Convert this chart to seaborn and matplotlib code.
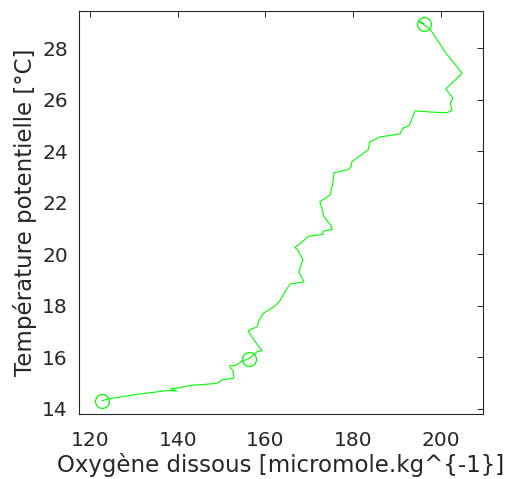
import matplotlib
matplotlib.use("Agg")
import matplotlib.pyplot as plt
import seaborn as sns
import pandas as pd

# Profile: dissolved oxygen vs potential temperature (surface -> depth)
oxygen = [196.1, 195.0, 197.5, 201.0, 204.8, 201.1, 202.7, 202.1, 202.5, 201.4,
          197.5, 194.1, 192.7, 191.3, 190.7, 186.1, 183.8, 183.4, 181.5, 179.7,
          179.5, 178.8, 175.6, 175.4, 174.7, 172.4, 172.9, 173.3, 174.9, 175.2,
          173.1, 173.1, 169.7, 168.5, 166.7, 167.2, 168.5, 167.6, 168.8, 165.6,
          164.4, 163.3, 162.2, 159.4, 158.5, 158.1, 156.0, 156.9, 158.3, 159.2,
          158.1, 156.2, 154.6, 153.0, 151.9, 152.1, 152.6, 152.8, 152.6, 150.3,
          148.9, 145.8, 142.8, 140.5, 138.4, 139.8, 137.8, 137.0, 130.0, 123.9,
          122.7]
theta = [28.96, 29.05, 28.75, 27.85, 27.03, 26.42, 26.07, 25.88, 25.60, 25.50,
         25.53, 25.57, 24.99, 24.90, 24.68, 24.56, 24.37, 24.06, 23.83, 23.60,
         23.40, 23.29, 23.17, 22.80, 22.30, 22.05, 21.75, 21.47, 21.13, 20.97,
         20.90, 20.78, 20.70, 20.50, 20.27, 20.20, 19.80, 19.30, 18.93, 18.85,
         18.54, 18.20, 18.00, 17.70, 17.42, 17.19, 17.03, 16.80, 16.46, 16.26,
         16.22, 15.95, 15.84, 15.68, 15.68, 15.57, 15.49, 15.26, 15.18, 15.14,
         14.99, 14.95, 14.91, 14.83, 14.78, 14.69, 14.72, 14.70, 14.55, 14.38,
         14.31]

# Marked points (circles)
mark_oxygen = [196.1, 156.2, 122.7]
mark_theta = [28.96, 15.95, 14.31]

x_ticks = [120, 140, 160, 180, 200]
y_ticks = [14, 16, 18, 20, 22, 24, 26, 28]

sns.set_theme(style="white")
plt.rcParams['font.family'] = ['DejaVu Sans']

df = pd.DataFrame({"oxygen": oxygen, "theta": theta})
dm = pd.DataFrame({"oxygen": mark_oxygen, "theta": mark_theta})

fig = plt.figure(figsize=(5.09, 4.79), dpi=100)
ax = fig.add_axes([0.1552, 0.135, 0.9483 - 0.1552, 0.977 - 0.135])

sns.lineplot(data=df, x="oxygen", y="theta", sort=False, estimator=None,
             color="#00ff00", linewidth=0.8, ax=ax)
ax.plot(dm["oxygen"], dm["theta"], linestyle="none", marker="o",
        markersize=10, markerfacecolor="none", markeredgecolor="#00ff00",
        markeredgewidth=0.9)

ax.set_xlim(117.5, 209.5)
ax.set_ylim(13.79, 29.45)
ax.set_xticks(x_ticks)
ax.set_yticks(y_ticks)

text_color = "#262626"
for s in ax.spines.values():
    s.set_color(text_color)
    s.set_linewidth(0.8)
ax.tick_params(direction="in", length=4, width=0.7, colors=text_color,
               labelsize=14.5, top=True, right=True, labeltop=False,
               labelright=False)
ax.tick_params(axis="x", pad=12)
ax.tick_params(axis="y", pad=8)
ax.set_xlabel("Oxygène dissous [micromole.kg^{-1}]", fontsize=16.5,
              color=text_color, labelpad=2)
ax.set_ylabel("Température potentielle [°C]", fontsize=16.5,
              color=text_color, labelpad=4)

fig.savefig("out.png", dpi=100)
